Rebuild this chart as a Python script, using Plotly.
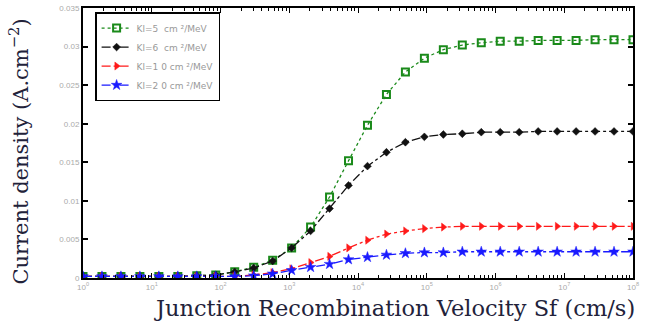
import numpy as np
import plotly.graph_objects as go

# Sf values: 30 log-spaced points from 1 to 1e8 cm/s
sf_exponents = [0, 8]
n_points = 30
sf = np.logspace(sf_exponents[0], sf_exponents[1], n_points)

j_k5 = [0.0002, 0.0002, 0.0002, 0.0002, 0.0002, 0.0002, 0.0003, 0.0004, 0.0008, 0.0014,
        0.0023, 0.0039, 0.0066, 0.0105, 0.0152, 0.0198, 0.0238, 0.0267, 0.0285, 0.0296,
        0.0302, 0.0305, 0.0307, 0.0307, 0.0308, 0.0308, 0.0308, 0.0309, 0.0309, 0.0309]
j_k6 = [0.0002, 0.0002, 0.0002, 0.0002, 0.0002, 0.0002, 0.0003, 0.0004, 0.0008, 0.0013,
        0.0022, 0.0039, 0.0061, 0.0090, 0.0120, 0.0145, 0.0163, 0.0176, 0.0183, 0.0186,
        0.0187, 0.0189, 0.0189, 0.0189, 0.0190, 0.0190, 0.0190, 0.0190, 0.0190, 0.0190]
j_k10 = [0.0002, 0.0002, 0.0002, 0.0002, 0.0002, 0.0002, 0.0002, 0.0002, 0.0002, 0.0004,
         0.0007, 0.0012, 0.0020, 0.0028, 0.0039, 0.0049, 0.0057, 0.0061, 0.0064, 0.0066,
         0.0067, 0.0067, 0.0067, 0.0067, 0.0067, 0.0067, 0.0067, 0.0067, 0.0067, 0.0067]
j_k20 = [0.0002, 0.0002, 0.0002, 0.0002, 0.0002, 0.0002, 0.0002, 0.0002, 0.0002, 0.0003,
         0.00055, 0.0010, 0.0014, 0.0018, 0.0024, 0.0027, 0.0030, 0.0032, 0.0033, 0.0033,
         0.0034, 0.0034, 0.0034, 0.0034, 0.0034, 0.0034, 0.0034, 0.0034, 0.0034, 0.0034]

series_names = ["Kl=5  cm ²/MeV", "Kl=6  cm ²/MeV", "Kl=1 0 cm ²/MeV", "Kl=2 0 cm ²/MeV"]
series_values = [j_k5, j_k6, j_k10, j_k20]
series_colors = ["#1a8a1a", "#111111", "#ff1a1a", "#1a1aff"]
series_symbols = ["square-open", "diamond", "triangle-right", "star"]
series_sizes = [7, 6, 7, 8]
series_dash = ["dot", "dashdot", "dashdot", "dashdot"]

x_tick_exps = list(range(0, 9))
x_tick_text = ["10<sup>%d</sup>" % e for e in x_tick_exps]
y_tick_vals = [0, 0.005, 0.01, 0.015, 0.02, 0.025, 0.03, 0.035]
y_tick_text = ["0", "0.005", "0.01", "0.015", "0.02", "0.025", "0.03", "0.035"]

x_title = "Junction Recombination Velocity Sf (cm/s)"
y_title = "Current density (A.cm<sup>−2</sup>)"

fig = go.Figure()
for name, vals, col, sym, sz, dash in zip(series_names, series_values, series_colors,
                                          series_symbols, series_sizes, series_dash):
    fig.add_trace(go.Scatter(
        x=sf, y=vals, mode="lines+markers", name=name,
        line=dict(color=col, width=1.3, dash=dash),
        marker=dict(symbol=sym, size=sz, color=col,
                    line=dict(color=col, width=2 if sym == "square-open" else 0.5)),
    ))

fig.update_layout(
    width=645, height=324,
    margin=dict(l=83, r=12, t=8, b=46),
    paper_bgcolor="white", plot_bgcolor="white",
    showlegend=True,
    legend=dict(x=0.022, y=0.985, xanchor="left", yanchor="top",
                bgcolor="white", bordercolor="black", borderwidth=1.5,
                font=dict(family="DejaVu Sans", size=9, color="#999999"),
                tracegroupgap=0, itemwidth=30),
    font=dict(family="Liberation Sans, Arial"),
    annotations=[
        dict(text=x_title, xref="paper", yref="paper", x=0.567, y=-0.111,
             xanchor="center", yanchor="middle", showarrow=False,
             font=dict(family="DejaVu Serif", size=22.5, color="#22223a")),
        dict(text=y_title, xref="paper", yref="paper", x=-0.1165, y=0.468,
             xanchor="center", yanchor="middle", showarrow=False, textangle=-90,
             font=dict(family="DejaVu Serif", size=21, color="#22223a")),
    ],
)
fig.update_xaxes(
    type="log", range=[0, 8], automargin=False,
    tickvals=[10 ** e for e in x_tick_exps], ticktext=x_tick_text,
    tickfont=dict(size=8, color="#aaaaaa"),
    ticks="inside", ticklen=5, tickcolor="black", tickwidth=1,
    minor=dict(ticks="inside", ticklen=3, tickcolor="black", dtick="D1", showgrid=False),
    showline=True, linecolor="black", linewidth=2, mirror="ticks",
    showgrid=False, zeroline=False,
)
fig.update_yaxes(
    range=[0, 0.035], automargin=False,
    tickvals=y_tick_vals, ticktext=y_tick_text,
    tickfont=dict(size=8, color="#aaaaaa"),
    ticks="inside", ticklen=5, tickcolor="black", tickwidth=1.5,
    showline=True, linecolor="black", linewidth=2, mirror="ticks",
    showgrid=False, zeroline=False,
)

fig.write_html("out.html", config={"displayModeBar": False},
               post_script="document.body.style.margin='0';")
